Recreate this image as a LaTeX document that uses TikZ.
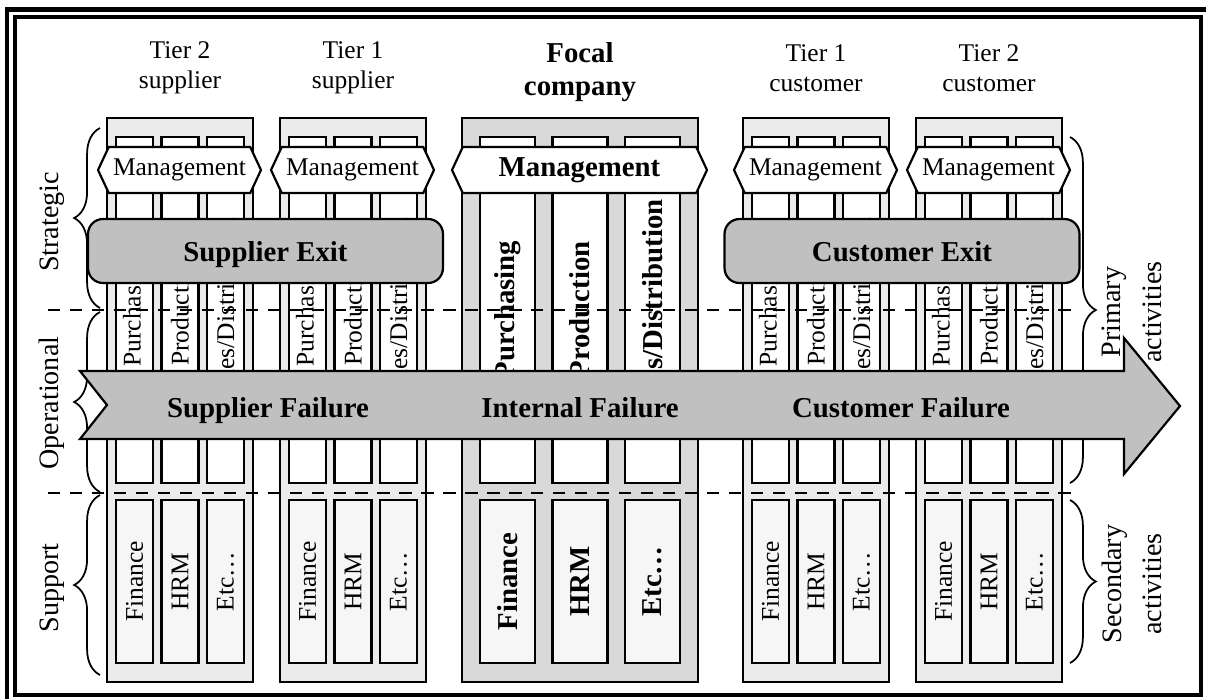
\documentclass[tikz,border=0pt]{standalone}
\usepackage{fontspec}
\setmainfont{Liberation Serif}
\usetikzlibrary{shapes.symbols,decorations.pathreplacing}
\definecolor{tierGray}{RGB}{235,235,235}
\definecolor{focalGray}{RGB}{217,217,217}
\definecolor{supportGray}{RGB}{246,246,246}
\definecolor{exitGray}{RGB}{192,192,192}
\tikzset{
  company/.style={rectangle,draw,line width=1.25pt,minimum height=11.28cm,inner sep=0pt},
  activity/.style={rectangle,draw,line width=1.25pt,inner sep=0pt},
  mgmt/.style={signal,signal to=west and east,signal pointer angle=130,draw,fill=white,
    line width=1.25pt,minimum height=0.92cm,inner sep=0pt},
  exitbox/.style={rectangle,rounded corners=8.5pt,draw,fill=exitGray,line width=1.25pt,
    minimum width=7.1cm,minimum height=1.28cm,text height=2.8ex,text depth=0.3ex},
  layerline/.style={line width=1.2pt,dash pattern=on 7pt off 5.5pt},
  layerbrace/.style={decorate,decoration={brace,amplitude=14.7pt},line width=1pt},
  regular/.style={font=\fontsize{14.5}{17}\selectfont},
  strong/.style={font=\fontsize{16.4}{19}\selectfont\bfseries},
  sidelabel/.style={font=\fontsize{16}{21}\selectfont,rotate=90,align=center}
}

\begin{document}
\begin{tikzpicture}[x=0.02cm,y=-0.02cm]
\useasboundingbox (0,0) rectangle (1206,698);
% Double frame
\draw[line width=2.45pt] (7,9.5) rectangle (1209,702.5);
\draw[line width=2.45pt] (15,17) rectangle (1201,695);
% Suppliers and customers
\foreach \co/\cx in {supTwo/180,supOne/353,cusOne/816,cusTwo/989}{
  \node[company,fill=tierGray,minimum width=2.92cm] (\co) at (\cx,400) {};
  \foreach \i/\dx/\pa/\sa in {1/-45.5/Purchasing/Finance,2/0/Production/HRM,3/45.5/{Sales/Distribution}/{Etc…}}{
    \node[activity,fill=white,minimum width=0.74cm,minimum height=6.92cm] (\co p\i) at (\cx+\dx,310) {};
    \node[regular,rotate=90] (\co pt\i) at (\co p\i) {\pa};
    \node[activity,fill=supportGray,minimum width=0.74cm,minimum height=3.26cm] (\co s\i) at (\cx+\dx,581.5) {};
    \node[regular,rotate=90] (\co st\i) at (\co s\i) {\sa};
  }
  \node[mgmt,regular,minimum width=3.26cm] (\co m) at (\cx-0.5,170) {Management};
}
% Focal company
\node[company,fill=focalGray,minimum width=4.72cm] (focal) at (580,400) {};
\foreach \i/\dx/\pa/\sa in {1/-72.5/Purchasing/Finance,2/0/Production/HRM,3/72.5/{Sales/Distribution}/{Etc…}}{
  \node[activity,fill=white,minimum width=1.1cm,minimum height=6.92cm] (focal p\i) at (580+\dx,310) {};
  \node[strong,rotate=90] (focal pt\i) at (focal p\i) {\pa};
  \node[activity,fill=supportGray,minimum width=1.1cm,minimum height=3.26cm] (focal s\i) at (580+\dx,581.5) {};
  \node[strong,rotate=90] (focal st\i) at (focal s\i) {\sa};
}
\node[mgmt,strong,minimum width=5.1cm] (focal m) at (579.5,170) {Management};
% Titles
\node[regular,align=center] (supTwoT) at (180,68) {Tier 2\\supplier};
\node[regular,align=center] (supOneT) at (353,68) {Tier 1\\supplier};
\node[strong,align=center] (focalT) at (580,72) {Focal\\company};
\node[regular,align=center] (cusOneT) at (816,68) {Tier 1\\customer};
\node[regular,align=center] (cusTwoT) at (989,68) {Tier 2\\customer};
% Layer borders
\draw[layerline] (48,310) -- (1080,310);
\draw[layerline] (48,493) -- (1080,493);
% Exits
\node[exitbox,strong] (supExit) at (265.5,251) {Supplier Exit};
\node[exitbox,strong] (cusExit) at (902,251) {Customer Exit};
% Braces and layer labels
\coordinate (strTop) at (100,128);
\coordinate (strBot) at (100,308);
\coordinate (opTop) at (100,312);
\coordinate (opBot) at (100,492);
\coordinate (supTop) at (100,495);
\coordinate (supBot) at (100,675);
\coordinate (priTop) at (1070,137);
\coordinate (priBot) at (1070,483);
\coordinate (secTop) at (1070,500);
\coordinate (secBot) at (1070,663);
\draw[layerbrace] (strBot) -- (strTop);
\draw[layerbrace] (opBot) -- (opTop);
\draw[layerbrace] (supBot) -- (supTop);
\draw[layerbrace] (priTop) -- (priBot);
\draw[layerbrace] (secTop) -- (secBot);
\node[sidelabel] (strL) at (52,222) {Strategic};
\node[sidelabel] (opL) at (52,403) {Operational};
\node[sidelabel] (supL) at (52,588) {Support};
\node[sidelabel] (priL) at (1132,312) {Primary\\[2pt]activities};
\node[sidelabel] (secL) at (1132,584) {Secondary\\[2pt]activities};
% Failure arrow
\draw[line width=1.25pt,fill=exitGray] (80,371) -- (1124,371) -- (1124,338) -- (1180,406)
  -- (1124,474) -- (1124,439) -- (80,439) -- (107,405) -- cycle;
\node[strong,anchor=base] (supFail) at (268,417) {Supplier Failure};
\node[strong,anchor=base] (intFail) at (580,417) {Internal Failure};
\node[strong,anchor=base] (cusFail) at (901,417) {Customer Failure};
\end{tikzpicture}
\end{document}
